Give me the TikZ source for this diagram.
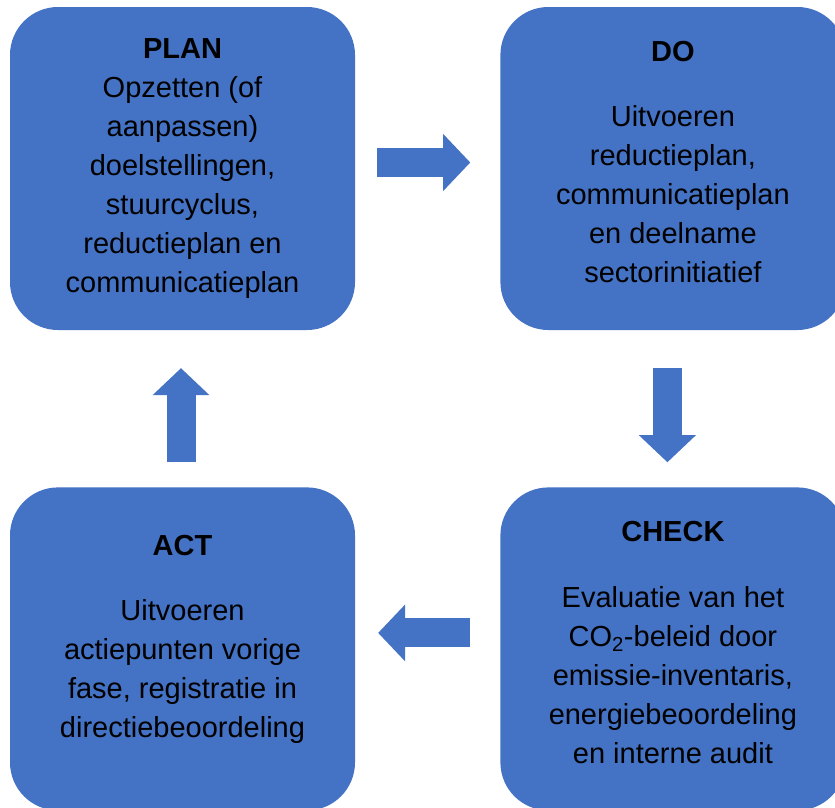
\documentclass[tikz,border=0pt]{standalone}
\usepackage{fontspec}
\setmainfont{Liberation Sans}
\usetikzlibrary{positioning,arrows.meta}
\definecolor{phaseblue}{HTML}{4472C4}

\begin{document}
\begin{tikzpicture}[
    every node/.style={font=\fontsize{29}{39}\selectfont, align=center},
    phase/.style={
      fill=phaseblue, draw=none, rounded corners=48pt,
      minimum width=345pt, minimum height=323pt, inner sep=0pt
    },
    flow/.style={
      draw=phaseblue, line width=29pt,
      -{Triangle[length=27pt, width=57pt, line width'=0pt]}
    }
  ]
  \useasboundingbox (0,0) rectangle (835pt,-807pt);

  % ---------- de vier fasen -------------
  \node[phase] (plan) at (182.5pt,-168.5pt)
    {\textbf{PLAN}\\Opzetten (of\\aanpassen)\\doelstellingen,\\stuurcyclus,\\reductieplan en\\communicatieplan};
  \node[phase, right=145pt of plan, text depth=14pt] (do)
    {\textbf{DO}\\[26pt]Uitvoeren\\reductieplan,\\communicatieplan\\en deelname\\sectorinitiatief};
  \node[phase, below=157pt of do, text depth=14pt] (check)
    {\textbf{CHECK}\\[27pt]Evaluatie van het\\CO\textsubscript{2}-beleid door\\emissie-inventaris,\\energiebeoordeling\\en interne audit};
  \node[phase, left=145pt of check, text depth=26pt] (act)
    {\textbf{ACT}\\[26pt]Uitvoeren\\actiepunten vorige\\fase, registratie in\\directiebeoordeling};

  % ---------- blokpijlen tussen de fasen -------------
  \draw[flow, shorten <=22pt, shorten >=30pt] ([yshift=6pt]plan.east) -- ([yshift=6pt]do.west);
  \draw[flow, shorten <=38pt, shorten >=25pt] ([xshift=-5.5pt]do.south) -- ([xshift=-5.5pt]check.north);
  \draw[flow, shorten <=30pt, shorten >=23pt] ([yshift=16pt]check.west) -- ([yshift=16pt]act.east);
  \draw[flow, shorten <=25pt, shorten >=38pt] ([xshift=-1.5pt]act.north) -- ([xshift=-1.5pt]plan.south);

\end{tikzpicture}
\end{document}
